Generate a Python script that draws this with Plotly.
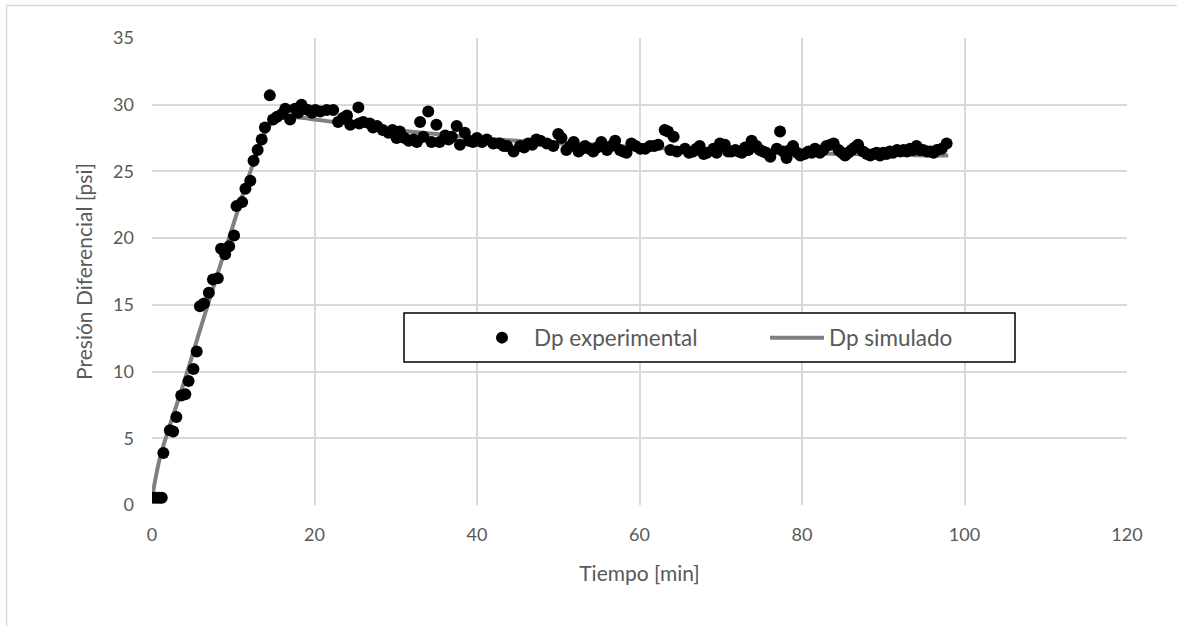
import plotly.graph_objects as go

# Experimental data (time [min], differential pressure [psi])
t_exp = [0.1, 0.5, 0.9, 1.2, 1.4, 2.2, 2.6, 3.0, 3.6, 4.1, 4.5, 5.1, 5.5, 5.9, 6.4, 7.0, 7.5, 8.1,
         8.5, 9.0, 9.5, 10.1, 10.4, 11.1, 11.5, 12.1, 12.5, 13.0, 13.5, 13.9, 14.5, 14.9, 15.4,
         16.0, 16.4, 17.0, 17.6, 18.0, 18.4, 19.2, 19.7, 20.1, 20.7, 21.5, 22.3, 22.9, 23.5, 24.0,
         24.4, 25.4, 25.5, 26.0, 26.8, 27.2, 27.7, 28.4, 29.1, 29.6, 30.1, 30.5, 31.1, 31.6, 32.2,
         32.6, 33.0, 33.4, 34.0, 34.4, 35.0, 35.4, 36.1, 36.5, 36.9, 37.5, 37.9, 38.5, 39.0, 39.5,
         40.0, 40.6, 41.2, 42.0, 42.8, 43.3, 43.7, 44.5, 45.3, 45.8, 46.3, 46.8, 47.3, 47.8, 48.6,
         49.4, 50.0, 50.4, 51.0, 51.5, 51.9, 52.5, 52.9, 53.3, 53.8, 54.3, 54.8, 55.3, 56.0, 56.5,
         57.0, 57.6, 58.0, 58.4, 59.0, 59.5, 60.1, 60.7, 61.3, 61.8, 62.3, 63.1, 63.5, 63.8, 64.2,
         64.6, 65.6, 66.1, 66.6, 67.0, 67.4, 67.9, 68.3, 69.1, 69.5, 69.9, 70.5, 70.9, 71.3, 71.8,
         72.2, 72.6, 73.0, 73.4, 73.8, 74.4, 74.8, 75.2, 75.6, 76.1, 76.9, 77.3, 77.7, 78.1, 78.5,
         78.9, 79.4, 79.8, 80.3, 80.8, 81.2, 81.6, 82.2, 82.6, 83.0, 83.5, 83.9, 84.5, 84.9, 85.3,
         85.7, 86.1, 86.5, 86.9, 87.5, 88.0, 88.4, 88.8, 89.2, 89.6, 90.0, 90.4, 90.8, 91.2, 91.7,
         92.1, 92.5, 92.9, 93.3, 93.7, 94.1, 94.5, 94.9, 95.4, 95.8, 96.2, 96.6, 97.2, 97.8]
p_exp = [0.55, 0.55, 0.55, 0.55, 3.9, 5.6, 5.5, 6.6, 8.2, 8.3, 9.3, 10.2, 11.5, 14.9, 15.1, 15.9, 16.9, 17.0,
         19.2, 18.8, 19.4, 20.2, 22.4, 22.7, 23.7, 24.3, 25.8, 26.6, 27.4, 28.3, 30.7, 28.9, 29.1,
         29.3, 29.7, 28.9, 29.7, 29.4, 30.0, 29.6, 29.4, 29.6, 29.5, 29.6, 29.6, 28.7, 29.0, 29.2,
         28.5, 29.8, 28.6, 28.7, 28.6, 28.3, 28.4, 28.1, 27.9, 28.1, 27.5, 28.0, 27.5, 27.3, 27.4,
         27.2, 28.7, 27.6, 29.5, 27.2, 28.5, 27.2, 27.7, 27.4, 27.6, 28.4, 27.0, 27.9, 27.3, 27.2,
         27.5, 27.2, 27.4, 27.1, 27.1, 26.9, 26.9, 26.5, 26.9, 26.8, 27.1, 27.0, 27.4, 27.3, 27.1,
         26.9, 27.8, 27.5, 26.6, 26.9, 27.2, 26.5, 26.7, 26.9, 26.7, 26.5, 26.8, 27.2, 26.6, 26.9,
         27.3, 26.6, 26.5, 26.4, 27.1, 26.9, 26.7, 26.7, 26.9, 26.9, 27.0, 28.1, 28.0, 26.6, 27.6,
         26.5, 26.7, 26.4, 26.5, 26.7, 26.9, 26.3, 26.4, 26.7, 26.4, 27.1, 27.0, 26.5, 26.5, 26.6,
         26.5, 26.4, 26.8, 26.6, 27.3, 26.9, 26.6, 26.5, 26.4, 26.1, 26.7, 28.0, 26.5, 26.0, 26.6,
         26.9, 26.4, 26.2, 26.3, 26.5, 26.4, 26.7, 26.4, 26.6, 26.9, 27.0, 27.1, 26.6, 26.4, 26.2,
         26.4, 26.6, 26.8, 27.0, 26.5, 26.3, 26.2, 26.3, 26.4, 26.2, 26.4, 26.3, 26.5, 26.4, 26.6,
         26.5, 26.6, 26.5, 26.7, 26.6, 26.9, 26.6, 26.6, 26.5, 26.5, 26.4, 26.6, 26.7, 27.1]

# Simulated curve
t_sim = [0, 0.5, 1, 2, 4, 6, 8, 10, 12, 14, 15.5, 17, 20, 25, 30, 35, 40, 45, 50, 55, 60,
         65, 70, 75, 80, 85, 90, 95, 98]
p_sim = [0.5, 2.2, 3.6, 5.6, 9.3, 13.3, 17.2, 21.0, 24.8, 28.0, 29.0, 29.1, 28.9, 28.5, 28.1,
         27.8, 27.5, 27.3, 27.1, 27.0, 26.8, 26.7, 26.6, 26.5, 26.4, 26.3, 26.3, 26.2, 26.2]

x_ticks = [0, 20, 40, 60, 80, 100, 120]
y_ticks = [0, 5, 10, 15, 20, 25, 30, 35]

FONT = "Lato"
TXT = "#595959"
GRID = "#d9d9d9"

fig = go.Figure()
fig.add_trace(go.Scatter(
    x=t_sim, y=p_sim, mode="lines", name="Dp simulado",
    line=dict(color="#808080", width=4, shape="spline"),
))
fig.add_trace(go.Scatter(
    x=t_exp, y=p_exp, mode="markers", name="Dp experimental",
    marker=dict(color="black", size=12, line=dict(width=0)),
))

W, H = 1177, 626
L, R, T, B = 152, 50, 38, 121
pw, ph = W - L - R, H - T - B

def px2paper_x(px):
    return (px - L) / pw

def px2paper_y(py):
    return (H - B - py) / ph

fig.update_layout(
    width=W, height=H,
    margin=dict(l=L, r=R, t=T, b=B),
    paper_bgcolor="white", plot_bgcolor="white",
    font=dict(family=FONT, color=TXT, size=18),
    showlegend=True,
    legend=dict(
        orientation="h",
        x=px2paper_x(470), y=px2paper_y(338), xanchor="left", yanchor="middle",
        bgcolor="rgba(0,0,0,0)", borderwidth=0,
        font=dict(size=22.5, color=TXT, family=FONT),
        traceorder="reversed",
        itemwidth=54,
        entrywidth=226, entrywidthmode="pixels",
    ),
    xaxis=dict(
        range=[0, 120], tickvals=x_ticks, showgrid=True, gridcolor=GRID, gridwidth=1.5,
        zeroline=False, showline=False, ticks="", tickfont=dict(size=18, color=TXT),
        ticklabelstandoff=17,
        title=dict(text="Tiempo [min]", font=dict(size=21, color=TXT), standoff=22),
    ),
    yaxis=dict(
        range=[0, 35], tickvals=y_ticks, showgrid=True, gridcolor=GRID, gridwidth=1.5,
        zeroline=False, showline=False, ticks="", tickfont=dict(size=18, color=TXT),
        ticklabelstandoff=17,
        title=dict(text="Presión Diferencial [psi]", font=dict(size=21, color=TXT), standoff=14),
    ),
    shapes=[
        # legend box
        dict(type="rect", xref="paper", yref="paper",
             x0=px2paper_x(404), x1=px2paper_x(1015), y0=px2paper_y(362), y1=px2paper_y(313),
             line=dict(color="black", width=1.5), fillcolor="white", layer="above"),
        # outer chart border (left and top visible)
        dict(type="line", xref="paper", yref="paper",
             x0=px2paper_x(6.5), x1=px2paper_x(6.5), y0=px2paper_y(5.5), y1=px2paper_y(700),
             line=dict(color=GRID, width=1.5)),
        dict(type="line", xref="paper", yref="paper",
             x0=px2paper_x(6.5), x1=px2paper_x(1300), y0=px2paper_y(5.5), y1=px2paper_y(5.5),
             line=dict(color=GRID, width=1.5)),
    ],
)

fig.write_html("out.html")
